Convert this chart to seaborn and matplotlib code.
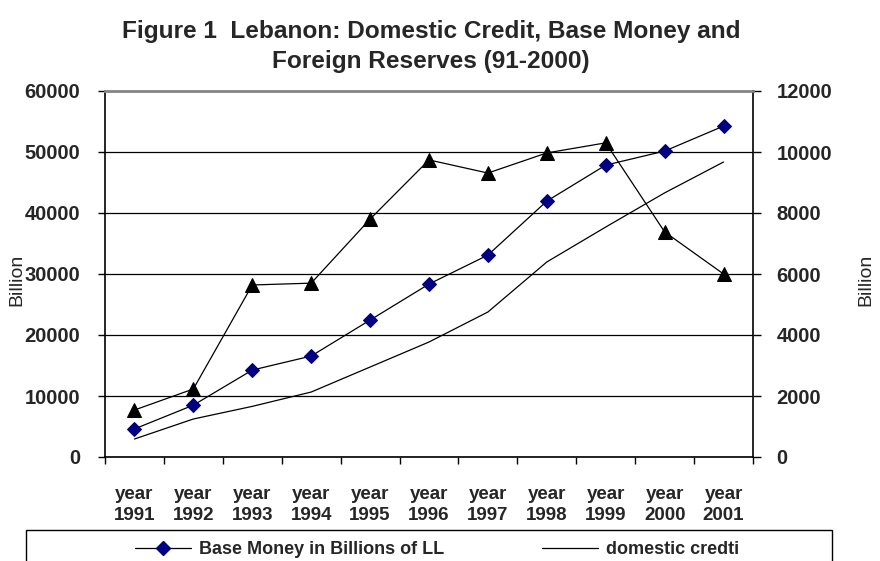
import matplotlib
matplotlib.use("Agg")
import matplotlib.pyplot as plt
import seaborn as sns
import pandas as pd
import numpy as np
from matplotlib.lines import Line2D
from matplotlib.patches import Rectangle
from matplotlib.ticker import FixedLocator, NullFormatter

years = ["1991", "1992", "1993", "1994", "1995", "1996", "1997", "1998", "1999", "2000", "2001"]
tick_labels = ["year\n" + y for y in years]
# left axis (billions)
domestic_credit = [2950, 6230, 8300, 10650, 14750, 18850, 23770, 31970, 37700, 43300, 48360]
# right axis
base_money = [920, 1700, 2850, 3310, 4490, 5670, 6620, 8390, 9570, 10030, 10850]
foreign_reserves = [1540, 2230, 5640, 5700, 7800, 9740, 9310, 9970, 10300, 7380, 6000]

sns.set_theme(style="white")
plt.rcParams['font.family'] = ['Liberation Sans', 'DejaVu Sans']

df = pd.DataFrame({
    "idx": np.arange(len(years)),
    "domestic": domestic_credit,
    "base": base_money,
    "reserves": foreign_reserves,
})

fig = plt.figure(figsize=(8.8, 5.61), dpi=100)
ax = fig.add_axes([105/880, 1-457/561, (753-105)/880, (457-91)/561])
ax2 = ax.twinx()

sns.lineplot(data=df, x="idx", y="domestic", ax=ax, color="black", linewidth=0.9,
             sort=False, legend=False)
sns.lineplot(data=df, x="idx", y="base", ax=ax2, color="black", linewidth=0.9,
             marker="D", markersize=7.5, markerfacecolor="#000080", markeredgecolor="#000080",
             sort=False, legend=False)
sns.lineplot(data=df, x="idx", y="reserves", ax=ax2, color="black", linewidth=0.9,
             marker="^", markersize=10, markerfacecolor="black", markeredgecolor="black",
             sort=False, legend=False)

n = len(years)
for a in (ax, ax2):
    a.set_xlim(-0.5, n - 0.5)
    a.set_xlabel("")
ax.set_ylim(0, 60000)
ax2.set_ylim(0, 12000)
ax.set_yticks(np.arange(0, 60001, 10000))
ax2.set_yticks(np.arange(0, 12001, 2000))

ax.set_xticks(np.arange(n))
ax.set_xticklabels(tick_labels, fontsize=13.5, fontweight="bold", linespacing=1.3)
ax.xaxis.set_minor_locator(FixedLocator(np.arange(-0.5, n, 1.0)))
ax.xaxis.set_minor_formatter(NullFormatter())
ax.tick_params(axis="x", which="major", length=0, pad=21)
ax.tick_params(axis="x", which="minor", length=5, width=1, color="black", direction="out", bottom=True)

ax.tick_params(axis="y", which="major", length=5, width=1, color="black", direction="out",
               labelsize=14.5, pad=13, left=True)
ax2.tick_params(axis="y", which="major", length=6, width=1, color="black", direction="out",
                labelsize=14.5, pad=11, right=True)
for lab in ax.get_yticklabels() + ax2.get_yticklabels():
    lab.set_fontweight("bold")

ax.grid(axis="y", color="black", linewidth=0.9)
ax.grid(axis="x", visible=False)
ax2.grid(False)
ax.set_ylabel("")
ax2.set_ylabel("")

for a in (ax, ax2):
    for s in ("left", "right", "bottom"):
        a.spines[s].set_color("black")
        a.spines[s].set_linewidth(1.2)
    a.spines["top"].set_color("#888888")
    a.spines["top"].set_linewidth(1.8)
ax.spines["right"].set_visible(False)
ax2.spines["left"].set_visible(False)
ax2.spines["bottom"].set_visible(False)

fig.text(17/880, 1-280/561, "Billion", rotation=90, ha="center", va="center", fontsize=14)
fig.text(866/880, 1-280/561, "Billion", rotation=90, ha="center", va="center", fontsize=14)

fig.text(431/880, 1-38/561, "Figure 1  Lebanon: Domestic Credit, Base Money and",
         ha="center", va="baseline", fontsize=17.6, fontweight="bold")
fig.text(431/880, 1-68/561, "Foreign Reserves (91-2000)",
         ha="center", va="baseline", fontsize=17.6, fontweight="bold")

# legend (only the visible row of the reference's cropped legend)
h_base = Line2D([], [], color="black", linewidth=0.9, marker="D", markersize=7.5,
                markerfacecolor="#000080", markeredgecolor="#000080")
h_dom = Line2D([], [], color="black", linewidth=0.9)
leg = fig.legend([h_base, h_dom],
                 ["Base Money in Billions of LL", "domestic credti"],
                 ncol=2, loc="upper left", bbox_to_anchor=(135/880, 1-541/561),
                 bbox_transform=fig.transFigure, frameon=False, borderpad=0, borderaxespad=0,
                 handlelength=3.1, handletextpad=0.45, columnspacing=5.4,
                 prop={"size": 13, "weight": "bold"})
fig.patches.append(Rectangle((26/880, -0.1), (832-26)/880, 0.1 + 1-530/561,
                             transform=fig.transFigure, fill=False, edgecolor="black",
                             linewidth=1.0, figure=fig))

fig.savefig("out.png", dpi=100)
